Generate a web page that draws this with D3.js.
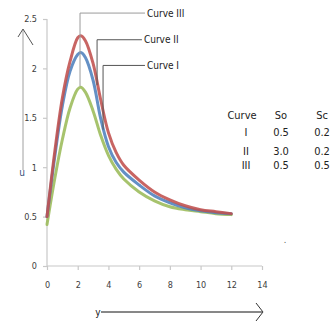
<!DOCTYPE html>
<html>
<head>
<meta charset="utf-8">
<title>u vs y</title>
<script src="https://cdn.jsdelivr.net/npm/d3@7"></script>
<style>
  body { margin: 0; background: #fff; }
  svg { display: block; }
  text { font-family: "Liberation Sans Narrow", "DejaVu Sans Condensed", "Arial Narrow", sans-serif; }
</style>
</head>
<body>
<div id="chart"></div>
<script>
// data
var xs       = [0, 0.5, 1, 1.5, 2, 2.2, 2.5, 3, 3.5, 4, 4.5, 5, 6, 7, 8, 9, 10, 11, 12];
var curveIII = [0.50, 1.15, 1.70, 2.07, 2.31, 2.33, 2.28, 2.05, 1.68, 1.35, 1.15, 1.02, 0.87, 0.75, 0.67, 0.61, 0.57, 0.55, 0.53];
var curveII  = [0.50, 1.10, 1.62, 1.97, 2.14, 2.16, 2.11, 1.88, 1.49, 1.21, 1.05, 0.95, 0.82, 0.71, 0.64, 0.59, 0.56, 0.54, 0.53];
var curveI   = [0.42, 0.88, 1.28, 1.60, 1.79, 1.81, 1.76, 1.57, 1.32, 1.12, 0.98, 0.88, 0.75, 0.66, 0.60, 0.57, 0.55, 0.53, 0.52];

var xTicks = [0, 2, 4, 6, 8, 10, 12, 14];
var yTicks = [0, 0.5, 1, 1.5, 2, 2.5];

var seriesNames  = ["Curve I", "Curve II", "Curve III"];
var seriesColors = ["#9bbb59", "#4f81bd", "#c0504d"];

// leader lines: x position, top and bottom value, end of the horizontal run
var leaders = [
  { name: "Curve III", x: 2.15, top: 2.56, bottom: 1.82, end: 6.38 },
  { name: "Curve II",  x: 3.26, top: 2.29, bottom: 1.83, end: 6.18 },
  { name: "Curve I",   x: 3.65, top: 2.03, bottom: 1.38, end: 6.38 }
];

var tableHead = ["Curve", "So", "Sc"];
var tableRows = [["I", "0.5", "0.2"], ["II", "3.0", "0.2"], ["III", "0.5", "0.5"]];

var width = 335, height = 324;

var svg = d3.select("#chart").append("svg")
    .attr("width", width)
    .attr("height", height);

var x = d3.scaleLinear().domain([0, 14]).range([47, 262]);
var y = d3.scaleLinear().domain([0, 2.5]).range([266, 19]);

// axes
var xAxis = d3.axisBottom(x).tickValues(xTicks).tickSize(4).tickPadding(12).tickFormat(d3.format("d"));
var yAxis = d3.axisLeft(y).tickValues(yTicks).tickSize(4).tickPadding(6).tickFormat(function(d) { return String(d); });

var gx = svg.append("g").attr("transform", "translate(0," + y(0) + ")").call(xAxis);
var gy = svg.append("g").attr("transform", "translate(" + x(0) + ",0)").call(yAxis);

[gx, gy].forEach(function(g) {
  g.select(".domain").attr("stroke", "#c8c8c8").attr("stroke-width", 1.2);
  g.selectAll(".tick line").attr("stroke", "#c8c8c8").attr("stroke-width", 1.2);
  g.selectAll(".tick text").attr("fill", "#404040").style("font-size", "9px");
});
gy.select(".domain").attr("d", "M0," + y(2.5) + "V" + y(0));
gx.select(".domain").attr("d", "M" + x(0) + ",0H" + x(14));

// curves
var line = d3.line()
    .x(function(d) { return x(d[0]); })
    .y(function(d) { return y(d[1]); })
    .curve(d3.curveCatmullRom.alpha(0.5));

var allSeries = [curveI, curveII, curveIII];
allSeries.forEach(function(vals, i) {
  svg.append("path")
      .datum(xs.map(function(v, j) { return [v, vals[j]]; }))
      .attr("fill", "none")
      .attr("stroke", seriesColors[i])
      .attr("stroke-width", 3)
      .attr("stroke-linejoin", "round")
      .attr("stroke-linecap", "round")
      .attr("opacity", 0.88)
      .attr("d", line);
});

// leader lines with labels
leaders.forEach(function(l, i) {
  svg.append("path")
      .attr("fill", "none")
      .attr("stroke", i == 0 ? "#9a9a9a" : "#555")
      .attr("stroke-width", 1)
      .attr("d", "M" + x(l.x) + "," + y(l.bottom) + "V" + y(l.top) + "H" + x(l.end));
  svg.append("text")
      .attr("x", x(l.end) + 2)
      .attr("y", y(l.top))
      .attr("dy", "0.35em")
      .attr("fill", "#222")
      .style("font-size", "10px")
      .text(l.name);
});

// axis titles with arrows
svg.append("path")
    .attr("fill", "none").attr("stroke", "#a0a0a0").attr("stroke-width", 1)
    .attr("d", "M23,170V30");
svg.append("path")
    .attr("fill", "none").attr("stroke", "#555").attr("stroke-width", 1)
    .attr("d", "M18,37L23,29L33,45");
svg.append("text")
    .attr("x", 22).attr("y", 176)
    .attr("text-anchor", "middle")
    .attr("fill", "#36507a")
    .style("font-size", "10px")
    .text("u");

svg.append("path")
    .attr("fill", "none").attr("stroke", "#111").attr("stroke-width", 1)
    .attr("d", "M101,312H262");
svg.append("path")
    .attr("fill", "none").attr("stroke", "#333").attr("stroke-width", 1)
    .attr("d", "M256,303L263,312L256,321");
svg.append("text")
    .attr("x", 98).attr("y", 312)
    .attr("dy", "0.35em")
    .attr("text-anchor", "middle")
    .attr("fill", "#222")
    .style("font-size", "10px")
    .text("y");

// parameter table
var colX = [242, 281, 322];
var rowY = [115, 132, 151, 165];
var tbl = svg.append("g").style("font-size", "11px").attr("fill", "#222");
tableHead.forEach(function(t, c) {
  tbl.append("text").attr("x", colX[c]).attr("y", rowY[0]).attr("dy", "0.35em")
     .attr("text-anchor", "middle").text(t);
});
tableRows.forEach(function(r, ri) {
  r.forEach(function(t, c) {
    tbl.append("text").attr("x", c == 0 ? 246 : colX[c]).attr("y", rowY[ri + 1]).attr("dy", "0.35em")
       .attr("text-anchor", "middle").text(t);
  });
});

svg.append("text").attr("x", 285).attr("y", 243).attr("text-anchor", "middle")
    .attr("fill", "#555").style("font-size", "9px").text(".");
</script>
</body>
</html>
